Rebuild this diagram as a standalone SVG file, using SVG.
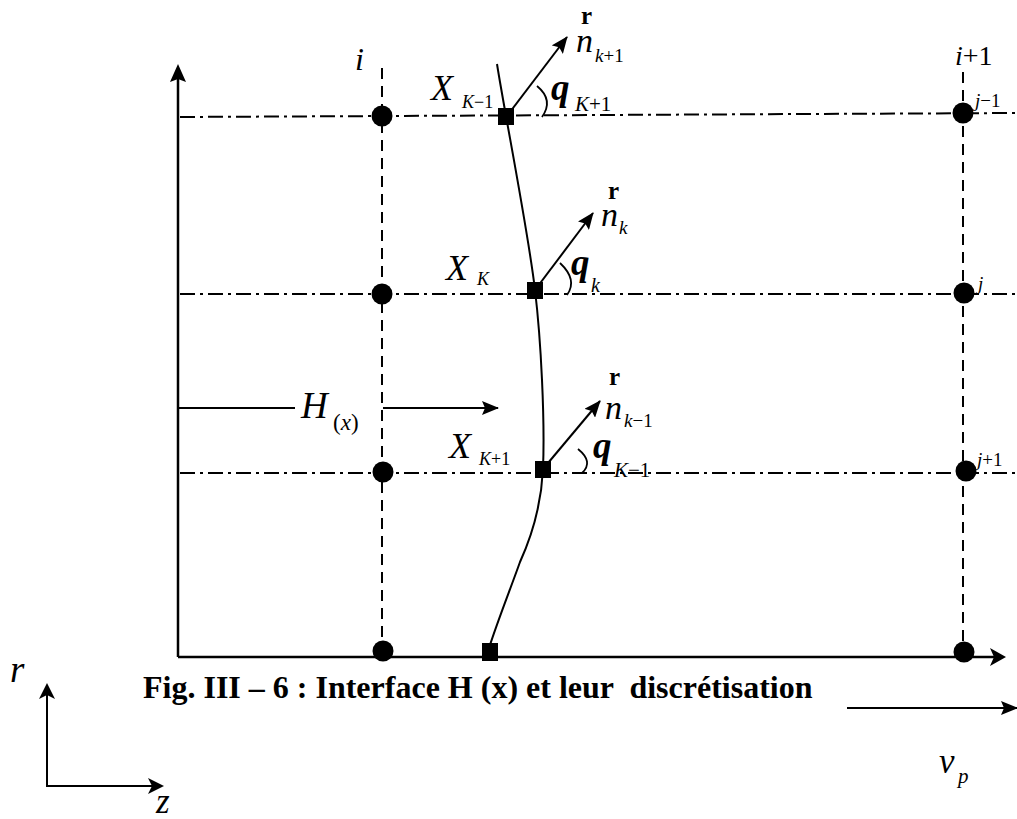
<svg xmlns="http://www.w3.org/2000/svg" width="1017" height="819" viewBox="0 0 1017 819">
<style>
.t{font-family:"Liberation Serif","Times New Roman",serif;fill:#000}
.it{font-style:italic}
.vec{font-weight:bold;font-size:25px}
.ax{stroke:#000;stroke-width:2.5;fill:none}
.dd{stroke:#000;stroke-width:2;fill:none;stroke-dasharray:15 5 3 5}
.ds{stroke:#000;stroke-width:2;fill:none;stroke-dasharray:11 7}
.ln{stroke:#000;stroke-width:2;fill:none}
.arc{stroke:#000;stroke-width:1.8;fill:none}
.pt{fill:#000}
</style>
<defs>
<marker id="ah" markerUnits="userSpaceOnUse" markerWidth="18" markerHeight="14" refX="16" refY="7" orient="auto">
<path d="M0,0 L17,7 L0,14 L3,7 Z" fill="#000"/>
</marker>
</defs>

<g id="connectors">
<path class="ax" d="M178,657 L178,78"/>
<path d="M178,64 L186,82 L178,79 L170,82 Z" fill="#000"/>
<path class="ax" d="M178,657 L1002,657"/>
<path d="M1006,657 L990,648 L994,657 L990,666 Z" fill="#000"/>
<path class="dd" d="M180,117 L1017,113"/>
<path class="dd" d="M180,294 L1017,294"/>
<path class="dd" d="M180,473 L1017,473"/>
<path class="ds" d="M382,68 L382,642"/>
<path class="ds" d="M963,72 L963,642"/>
<path class="ln" d="M497,64 C505,115 528,230 535,290 C541,340 545,420 543,469 C541,510 530,540 520,562 C510,590 498,620 489,648"/>
<path class="ln" d="M507,116 L567,37" marker-end="url(#ah)"/>
<path class="ln" d="M535,290 L593,213" marker-end="url(#ah)"/>
<path class="ln" d="M543,469 L600,401" marker-end="url(#ah)"/>
<path class="arc" d="M537,86 Q554,100 542,117"/>
<path class="arc" d="M560,263 Q578,280 567,295"/>
<path class="arc" d="M578,449 Q594,462 582,473"/>
<path class="ln" d="M178,408 L295,408"/>
<path class="ln" d="M383,408 L498,408" marker-end="url(#ah)"/>
<path class="ln" d="M47,787 L47,690"/>
<path d="M47,683 L55,699 L47,695 L39,699 Z" fill="#000"/>
<path class="ln" d="M46,786 L157,786"/>
<path d="M164,786 L148,778 L152,786 L148,794 Z" fill="#000"/>
<path class="ln" d="M847,708 L1017,708" marker-end="url(#ah)"/>
</g>

<g id="node-c1"><circle class="pt" cx="382" cy="116" r="10.5"/></g>
<g id="node-c2"><circle class="pt" cx="382" cy="294" r="10.5"/></g>
<g id="node-c3"><circle class="pt" cx="383" cy="472" r="10.5"/></g>
<g id="node-c4"><circle class="pt" cx="383" cy="651" r="10.5"/></g>
<g id="node-c5"><circle class="pt" cx="963" cy="113" r="10.5"/></g>
<g id="node-c6"><circle class="pt" cx="964" cy="293" r="10.5"/></g>
<g id="node-c7"><circle class="pt" cx="966" cy="471" r="10.5"/></g>
<g id="node-c8"><circle class="pt" cx="964" cy="652" r="10.5"/></g>
<g id="node-s1"><rect class="pt" x="498" y="108" width="16" height="17"/></g>
<g id="node-s2"><rect class="pt" x="527" y="282" width="16" height="17"/></g>
<g id="node-s3"><rect class="pt" x="535" y="461" width="16" height="17"/></g>
<g id="node-s4"><rect class="pt" x="482" y="643" width="16" height="18"/></g>

<g id="labels" font-family="Liberation Serif, Times New Roman, serif">
<text class="t it" x="355" y="70" font-size="32">i</text>
<text class="t" x="955" y="65" font-size="28"><tspan class="it">i</tspan>+1</text>
<text class="t" x="975" y="107" font-size="19"><tspan class="it">j</tspan>−1</text>
<text class="t it" x="978" y="290" font-size="19">j</text>
<text class="t" x="977" y="466" font-size="19"><tspan class="it">j</tspan>+1</text>

<text class="t it" x="431" y="100" font-size="36">X</text>
<text class="t" x="462" y="108" font-size="18"><tspan class="it">K</tspan>−1</text>
<text class="t it" x="446" y="280" font-size="36">X</text>
<text class="t it" x="477" y="285" font-size="18">K</text>
<text class="t it" x="449" y="458" font-size="36">X</text>
<text class="t" x="479" y="465" font-size="18"><tspan class="it">K</tspan>+1</text>

<text class="t vec" x="581" y="24">r</text>
<text class="t it" x="576" y="52" font-size="34">n</text>
<text class="t" x="595" y="62" font-size="19"><tspan class="it">k</tspan>+1</text>
<text class="t vec" x="608" y="199">r</text>
<text class="t it" x="601" y="226" font-size="34">n</text>
<text class="t it" x="619" y="234" font-size="19">k</text>
<text class="t vec" x="609" y="385">r</text>
<text class="t it" x="605" y="419" font-size="34">n</text>
<text class="t" x="624" y="427" font-size="19"><tspan class="it">k</tspan>−1</text>

<text class="t it" x="551" y="100" font-size="37" font-weight="bold">q</text>
<text class="t" x="575" y="111" font-size="21"><tspan class="it">K</tspan>+1</text>
<text class="t it" x="571" y="275" font-size="37" font-weight="bold">q</text>
<text class="t it" x="591" y="292" font-size="20">k</text>
<text class="t it" x="593" y="458" font-size="37" font-weight="bold">q</text>
<text class="t" x="614" y="477" font-size="21"><tspan class="it">K</tspan>−1</text>

<text class="t it" x="301" y="418" font-size="37">H</text>
<text class="t" x="333" y="430" font-size="23">(<tspan class="it">x</tspan>)</text>

<text class="t it" x="10" y="682" font-size="37">r</text>
<text class="t it" x="156" y="813" font-size="35">z</text>
<text class="t it" x="939" y="773" font-size="35">v</text>
<text class="t it" x="958" y="783" font-size="21">p</text>

<text class="t" x="143" y="698" font-size="32" font-weight="bold" style="white-space:pre">Fig. III – 6 : Interface H (x) et leur  discrétisation</text>
</g>
</svg>
